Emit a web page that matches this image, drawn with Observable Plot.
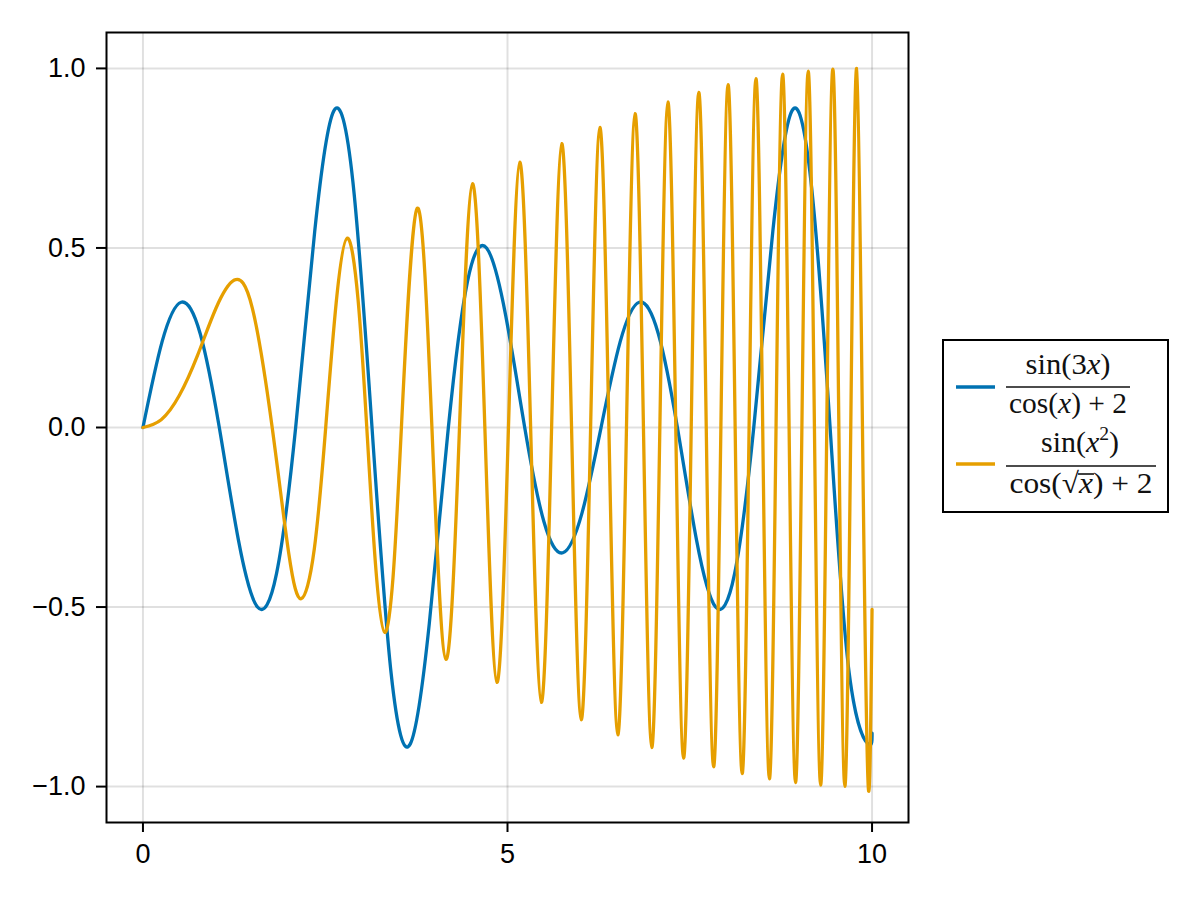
<!DOCTYPE html>
<html>
<head>
<meta charset="utf-8">
<script src="https://cdn.jsdelivr.net/npm/d3@7"></script>
<script src="https://cdn.jsdelivr.net/npm/@observablehq/plot@0.6"></script>
<style>
  body { margin: 0; background: white; }
  #wrap { position: relative; width: 1200px; height: 900px; overflow: hidden; }
  #legend { position: absolute; left: 942px; top: 339px; }
</style>
</head>
<body>
<div id="wrap"></div>
<script>
// Tick values
const xTicks = [0, 5, 10];
const yTicks = [-1.0, -0.5, 0.0, 0.5, 1.0];

// Series 1: sin(3x)/(cos(x)+2)
const s1x = [0, 0.2618, 0.5236, 0.7854, 1.0472, 1.3090, 1.5708, 1.8326, 2.0944, 2.3562,
  2.6180, 2.8798, 3.1416, 3.4034, 3.6652, 3.9270, 4.1888, 4.4506, 4.7124, 4.9742,
  5.2360, 5.4978, 5.7596, 6.0214, 6.2832, 6.5450, 6.8068, 7.0686, 7.3304, 7.5922,
  7.8540, 8.1158, 8.3776, 8.6394, 8.9012, 9.1630, 9.4248, 9.6866, 9.9484, 10];
const s1y = [0, 0.2384, 0.3489, 0.2612, 0, -0.3130, -0.5, -0.4061, 0, 0.5469,
  0.8818, 0.6838, 0, -0.6838, -0.8818, -0.5469, 0, 0.4061, 0.5, 0.3130,
  0, -0.2612, -0.3489, -0.2384, 0, 0.2384, 0.3489, 0.2612, 0, -0.3130,
  -0.5, -0.4061, 0, 0.5469, 0.8818, 0.6838, 0, -0.6838, -0.8818, -0.8511];

// Series 2: sin(x^2)/(cos(sqrt(x))+2) — peaks, troughs and crossings
const s2x = [0, 0.25, 0.5, 0.75, 1.0, 1.2533, 1.5, 1.7725, 2.0, 2.1708,
  2.35, 2.5066, 2.65, 2.8025, 2.95, 3.0700, 3.19, 3.3160, 3.43, 3.5449,
  3.7599, 3.9633, 4.1568, 4.3416, 4.5189, 4.6895, 4.8541, 5.0133, 5.1675, 5.3174,
  5.4631, 5.6050, 5.7434, 5.8786, 6.0107, 6.1400, 6.2666, 6.3907, 6.5124, 6.6319,
  6.7493, 6.8647, 6.9782, 7.0898, 7.1997, 7.3080, 7.4147, 7.5199, 7.6236, 7.7260,
  7.8269, 7.9267, 8.0251, 8.1224, 8.2185, 8.3135, 8.4075, 8.5004, 8.5923, 8.6832,
  8.7732, 8.8623, 8.9504, 9.0378, 9.1243, 9.2099, 9.2948, 9.3789, 9.4623, 9.5449,
  9.6269, 9.7082, 9.7887, 9.8686, 9.9479, 10];
const s2y = [0, 0.0217, 0.0896, 0.2014, 0.3313, 0.4105, 0.3326, 0, -0.3510, -0.4768,
  -0.3383, 0, 0.3467, 0.5272, 0.3567, 0, -0.3821, -0.5706, -0.4171, 0,
  0.6098, 0, -0.6456, 0, 0.6787, 0, -0.7099, 0, 0.7386, 0,
  -0.7655, 0, 0.7906, 0, -0.8139, 0, 0.8355, 0, -0.8556, 0,
  0.8740, 0, -0.8910, 0, 0.9065, 0, -0.9206, 0, 0.9333, 0,
  -0.9447, 0, 0.9548, 0, -0.9639, 0, 0.9717, 0, -0.9785, 0,
  0.9842, 0, -0.9887, 0, 0.9926, 0, -0.9957, 0, 0.9979, 0,
  -0.9992, 0, 0.9999, 0, -0.9999, -0.5063];

const blue = "#0072B2";
const orange = "#E69F00";

const series1 = s1x.map((x, i) => ({x, y: s1y[i]}));
const series2 = s2x.map((x, i) => ({x, y: s2y[i]}));

const fmt = d3.format(".1f");

const chart = Plot.plot({
  width: 1200,
  height: 900,
  marginLeft: 106,
  marginRight: 292,
  marginTop: 32,
  marginBottom: 78,
  style: "font-family: 'Liberation Sans', Arial, sans-serif; font-size: 27px; color: black; background: white;",
  x: {domain: [-0.5, 10.5], label: null},
  y: {domain: [-1.1, 1.1], label: null},
  marks: [
    Plot.gridX(xTicks, {stroke: "#000", strokeOpacity: 0.12, strokeWidth: 2}),
    Plot.gridY(yTicks, {stroke: "#000", strokeOpacity: 0.12, strokeWidth: 2}),
    Plot.axisX(xTicks, {tickSize: 10, tickPadding: 11, strokeWidth: 2, fontSize: 27, tickFormat: d => String(d), label: null}),
    Plot.axisY(yTicks, {tickSize: 10, tickPadding: 11, strokeWidth: 2, fontSize: 27, tickFormat: fmt, label: null}),
    Plot.line(series1, {x: "x", y: "y", stroke: blue, strokeWidth: 3.3, curve: "natural"}),
    Plot.line(series2, {x: "x", y: "y", stroke: orange, strokeWidth: 3.3, curve: "natural"}),
    Plot.frame({stroke: "black", strokeWidth: 2})
  ]
});

const wrap = document.getElementById("wrap");
wrap.appendChild(chart);

// Legend (placed to the right of the plot area)
const lg = d3.select(wrap).append("svg")
  .attr("id", "legend")
  .attr("width", 230).attr("height", 176)
  .style("font-family", "'Liberation Serif', 'DejaVu Serif', serif")
  .style("font-size", "29px");

lg.append("rect").attr("x", 1).attr("y", 1).attr("width", 225).attr("height", 172)
  .attr("fill", "white").attr("stroke", "black").attr("stroke-width", 2);

lg.append("line").attr("x1", 14).attr("x2", 53).attr("y1", 48).attr("y2", 48)
  .attr("stroke", blue).attr("stroke-width", 3.3);
lg.append("line").attr("x1", 14).attr("x2", 53).attr("y1", 125).attr("y2", 125)
  .attr("stroke", orange).attr("stroke-width", 3.3);

lg.append("line").attr("x1", 64).attr("x2", 188).attr("y1", 48).attr("y2", 48)
  .attr("stroke", "#111").attr("stroke-width", 1.6);
lg.append("line").attr("x1", 64).attr("x2", 214).attr("y1", 127).attr("y2", 127)
  .attr("stroke", "#111").attr("stroke-width", 1.6);

function mathText(parts, cx, y, len) {
  const t = lg.append("text").attr("x", cx).attr("y", y).attr("text-anchor", "middle")
    .attr("textLength", len).attr("lengthAdjust", "spacingAndGlyphs").attr("fill", "#111");
  parts.forEach(p => {
    const s = t.append("tspan").text(p.t);
    if (p.i) s.attr("font-style", "italic");
    if (p.dy) s.attr("dy", p.dy);
    if (p.fs) s.attr("font-size", p.fs);
  });
  return t;
}

mathText([{t: "sin(3"}, {t: "x", i: true}, {t: ")"}], 126, 35, 85);
mathText([{t: "cos("}, {t: "x", i: true}, {t: ") + 2"}], 126, 74, 118);
mathText([{t: "sin("}, {t: "x", i: true}, {t: "2", dy: -12, fs: "19px"}, {t: ")", dy: 12}], 138, 113, 78);
const den2 = mathText([{t: "cos("}, {t: "\u221A"}, {t: "x", i: true}, {t: ") + 2"}], 139, 154, 143);

try {
  const node = den2.node();
  const r = node.getExtentOfChar(4);
  const xx = node.getExtentOfChar(5);
  lg.append("line")
    .attr("x1", r.x + r.width - 1).attr("x2", xx.x + xx.width + 1)
    .attr("y1", 135).attr("y2", 135)
    .attr("stroke", "#111").attr("stroke-width", 1.6);
} catch (e) {}
</script>
</body>
</html>
